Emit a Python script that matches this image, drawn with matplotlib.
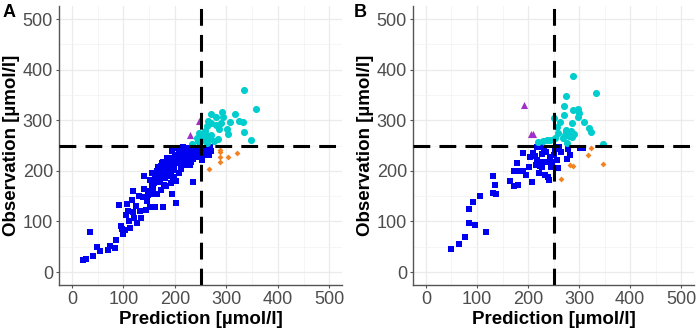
import matplotlib.pyplot as plt
import numpy as np

plt.rcParams['font.family'] = ['Liberation Sans', 'DejaVu Sans']

# ---- panel A data (prediction, observation) ----
a_blue_x = [22, 27, 35, 40, 48, 54, 69, 74, 84, 85, 91, 100, 103, 106, 105, 113, 117, 118, 120, 126,
            132, 135, 137, 139, 144, 148, 152, 152, 155, 158, 161, 165, 168, 171, 173, 174, 176, 177, 181, 183,
            185, 187, 190, 194, 196, 197, 200, 202, 203, 207, 210, 213, 216, 220, 223, 226, 229, 236, 239, 242,
            249, 252, 256, 265, 268, 160, 162, 165, 167, 170, 172, 175, 178, 180, 182, 185, 187, 188, 190, 192,
            194, 196, 198, 200, 202, 204, 206, 208, 210, 212, 214, 216, 218, 220, 222, 224, 226, 228, 230, 232,
            234, 236, 238, 240, 244, 246, 250, 254, 258, 262, 266, 270, 215, 205, 195, 185, 175, 168, 158, 150,
            145, 140, 130, 125, 110, 95, 118, 155, 98, 108, 178, 192, 212, 232, 246, 222, 170, 164, 184, 199]
a_blue_y = [24, 25, 80, 32, 49, 42, 43, 51, 47, 63, 133, 76, 83, 134, 113, 86, 142, 118, 106, 97,
            121, 106, 149, 190, 123, 152, 182, 129, 169, 155, 129, 154, 208, 179, 162, 202, 129, 218, 185, 169,
            195, 208, 215, 155, 185, 202, 228, 137, 179, 195, 215, 238, 248, 228, 221, 241, 211, 177, 228, 238,
            248, 221, 231, 238, 248, 175, 190, 200, 185, 195, 210, 190, 200, 205, 195, 210, 200, 225, 190, 200,
            212, 222, 205, 215, 232, 220, 225, 238, 230, 222, 240, 232, 244, 236, 226, 245, 233, 240, 228, 246,
            238, 224, 244, 232, 246, 236, 242, 245, 236, 246, 232, 240, 215, 245, 240, 222, 215, 178, 165, 160,
            140, 165, 150, 130, 100, 90, 160, 195, 85, 120, 172, 176, 204, 218, 228, 212, 198, 186, 226, 188]
a_cyan_x = [335, 357, 271, 292, 279, 264, 293, 317, 307, 289, 324, 332, 271, 262, 286, 302, 304, 335,
            247, 254, 265, 271, 283, 275, 347, 234, 245, 256, 242, 262, 268, 258, 280]
a_cyan_y = [360, 322, 312, 317, 306, 299, 306, 312, 296, 294, 299, 296, 294, 289, 282, 282, 272, 277,
            274, 267, 269, 271, 263, 258, 261, 252, 258, 261, 264, 254, 264, 278, 290]
a_purple_x = [247, 229]
a_purple_y = [299, 271]
a_orange_x = [266, 288, 288, 288, 288, 304, 321]
a_orange_y = [203, 237, 242, 228, 217, 228, 235]

# ---- panel B data ----
b_blue_x = [50, 65, 77, 85, 85, 93, 96, 106, 118, 131, 132, 135, 137, 165, 172, 173, 179, 181, 185, 191,
            197, 202, 208, 210, 214, 216, 217, 221, 224, 224, 227, 229, 231, 233, 235, 237, 240, 242, 243, 245,
            248, 250, 253, 256, 259, 261, 264, 276, 279, 282, 302, 307, 191, 204, 217, 227]
b_blue_y = [45, 56, 69, 125, 96, 138, 92, 150, 80, 190, 157, 172, 154, 179, 199, 169, 215, 172, 200, 199,
            192, 208, 177, 236, 229, 211, 221, 196, 248, 209, 233, 218, 244, 192, 238, 218, 188, 182, 227, 208,
            218, 231, 244, 221, 205, 248, 238, 223, 244, 231, 246, 245, 235, 228, 248, 208]
b_cyan_x = [288, 333, 274, 288, 299, 300, 271, 270, 309, 298, 286, 263, 256, 250, 319, 324, 275, 279,
            282, 286, 272, 269, 259, 253, 243, 237, 229, 219, 348, 277, 274, 290, 280, 284]
b_cyan_y = [387, 354, 347, 320, 323, 314, 328, 310, 297, 306, 295, 297, 287, 304, 284, 277, 277, 271,
            276, 267, 271, 264, 274, 264, 261, 260, 258, 256, 253, 254, 280, 273, 268, 278]
b_purple_x = [192, 206, 209]
b_purple_y = [331, 273, 273]
b_orange_x = [323, 318, 282, 288, 265, 348]
b_orange_y = [246, 231, 211, 210, 184, 213]

cutoff = 250

fig = plt.figure(figsize=(6.99, 3.35), dpi=100)
ax_a = fig.add_axes([0.0846, 0.1503, 0.405, 0.8307])
ax_b = fig.add_axes([0.5912, 0.1503, 0.4013, 0.8307])

panels = [
    (ax_a, 'A', a_blue_x, a_blue_y, a_cyan_x, a_cyan_y, a_purple_x, a_purple_y, a_orange_x, a_orange_y),
    (ax_b, 'B', b_blue_x, b_blue_y, b_cyan_x, b_cyan_y, b_purple_x, b_purple_y, b_orange_x, b_orange_y),
]

for ax, tag, bx, by, cx, cy, px, py, ox, oy in panels:
    ax.scatter(bx, by, marker='s', s=22, color='#0000F0', linewidths=0, zorder=3)
    ax.scatter(cx, cy, marker='o', s=26, color='#00CDCD', linewidths=0, zorder=3)
    ax.scatter(px, py, marker='^', s=26, color='#A030C8', linewidths=0, zorder=3)
    ax.scatter(ox, oy, marker='D', s=9, color='#F58220', linewidths=0, zorder=3)

    ax.axvline(cutoff, color='black', lw=2.2, linestyle=(0, (5.5, 3)), zorder=4)
    ax.axhline(cutoff, color='black', lw=2.2, linestyle=(0, (5.5, 3)), zorder=4)

    ax.set_xlim(-25, 525)
    ax.set_ylim(-25, 525)
    ax.set_xticks(np.arange(0, 501, 100))
    ax.set_yticks(np.arange(0, 501, 100))
    ax.set_xticks(np.arange(50, 501, 100), minor=True)
    ax.set_yticks(np.arange(50, 501, 100), minor=True)
    ax.grid(which='major', color='#EBEBEB', lw=0.9, zorder=0)
    ax.grid(which='minor', color='#F2F2F2', lw=0.5, zorder=0)
    ax.set_axisbelow(True)

    for s in ['top', 'right']:
        ax.spines[s].set_visible(False)
    for s in ['left', 'bottom']:
        ax.spines[s].set_color('#555555')
        ax.spines[s].set_linewidth(1.0)
    ax.tick_params(which='major', length=2.5, width=0.8, color='#555555',
                   labelsize=13, labelcolor='#4D4D4D', pad=2)
    ax.tick_params(which='minor', length=0)

    ax.set_xlabel('Prediction [µmol/l]', fontsize=13.5, fontweight='bold', labelpad=2)
    ax.set_ylabel('Observation [µmol/l]', fontsize=13.5, fontweight='bold', labelpad=2)

fig.text(3 / 699, 1 - 4 / 335, 'A', fontsize=13, fontweight='bold', va='top', ha='left')
fig.text(354 / 699, 1 - 4 / 335, 'B', fontsize=13, fontweight='bold', va='top', ha='left')

fig.savefig('out.png', dpi=100)
